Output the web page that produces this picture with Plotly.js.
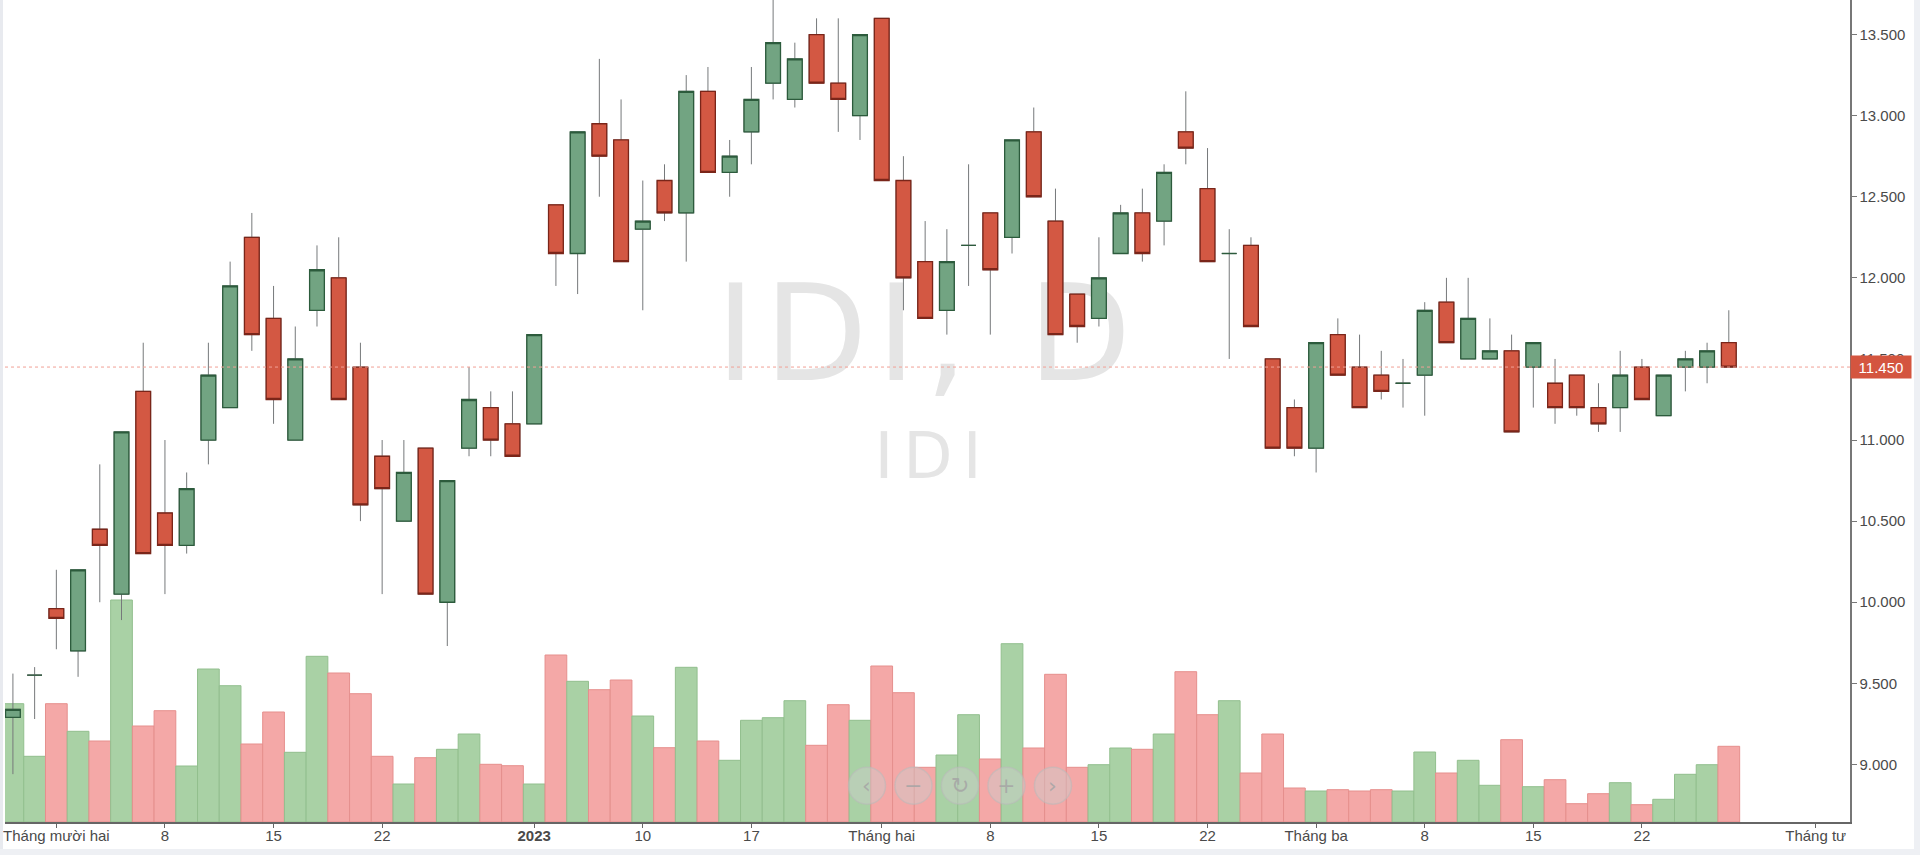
<!DOCTYPE html>
<html>
<head>
<meta charset="utf-8">
<script src="https://cdn.plot.ly/plotly-3.0.1.min.js"></script>
<style>
html,body{margin:0;padding:0;background:#fff;width:1920px;height:855px;overflow:hidden;}
#wm{position:absolute;left:0;top:0;z-index:0;}
#chart{position:absolute;left:0;top:0;width:1920px;height:855px;z-index:1;}
.edge{position:absolute;z-index:2;pointer-events:none;}
</style>
</head>
<body>
<svg id="wm" width="1920" height="855">
  <text id="wmBig" x="928" y="380" text-anchor="middle" font-family="DejaVu Sans" font-size="134" fill="#e5e5e5" letter-spacing="9"></text>
  <text id="wmSmall" x="933" y="478" text-anchor="middle" font-family="DejaVu Sans" font-size="64" fill="#e5e5e5" letter-spacing="10"></text>
</svg>
<div id="chart"></div>
<div class="edge" style="left:0;top:0;width:3px;height:855px;background:#e8eaef"></div>
<div class="edge" style="left:1914px;top:0;width:6px;height:855px;background:#eef0f4"></div>
<div class="edge" style="left:0;top:849px;width:1920px;height:6px;background:#eef0f4"></div>
<script>
// ---- data ----
const symbol = 'IDI';
const interval = 'D';

const dates = [
  '2022-11-29','2022-11-30',
  '2022-12-01','2022-12-02','2022-12-05','2022-12-06','2022-12-07','2022-12-08','2022-12-09',
  '2022-12-12','2022-12-13','2022-12-14','2022-12-15','2022-12-16','2022-12-19','2022-12-20',
  '2022-12-21','2022-12-22','2022-12-23','2022-12-26','2022-12-27','2022-12-28','2022-12-29','2022-12-30',
  '2023-01-03','2023-01-04','2023-01-05','2023-01-06','2023-01-09','2023-01-10','2023-01-11',
  '2023-01-12','2023-01-13','2023-01-16','2023-01-17','2023-01-18','2023-01-19','2023-01-27',
  '2023-01-30','2023-01-31',
  '2023-02-01','2023-02-02','2023-02-03','2023-02-06','2023-02-07','2023-02-08','2023-02-09',
  '2023-02-10','2023-02-13','2023-02-14','2023-02-15','2023-02-16','2023-02-17','2023-02-20',
  '2023-02-21','2023-02-22','2023-02-23','2023-02-24','2023-02-27','2023-02-28',
  '2023-03-01','2023-03-02','2023-03-03','2023-03-06','2023-03-07','2023-03-08','2023-03-09',
  '2023-03-10','2023-03-13','2023-03-14','2023-03-15','2023-03-16','2023-03-17','2023-03-20',
  '2023-03-21','2023-03-22','2023-03-23','2023-03-24','2023-03-27','2023-03-28'
];
const futureDates = ['2023-03-29','2023-03-30','2023-03-31','2023-04-03','2023-04-04','2023-04-05'];

const openPrice = [
  9290,9550,9960,9700,10450,10050,11300,10550,10350,11000,
  11200,12250,11750,11000,11800,12000,11450,10900,10500,10950,
  10000,10950,11200,11100,11100,12450,12150,12950,12850,12300,
  12600,12400,13150,12650,12900,13200,13100,13500,13200,13000,
  13600,12600,12100,11800,12200,12400,12250,12900,12350,11900,
  11750,12150,12400,12350,12900,12550,12150,12200,11500,11200,
  10950,11650,11450,11400,11350,11400,11850,11500,11500,11550,
  11450,11350,11400,11200,11200,11450,11150,11450,11450,11600
];
const highPrice = [
  9560,9600,10200,10200,10850,11050,11600,11000,10800,11600,
  12100,12400,11950,11700,12200,12250,11600,11000,11000,10950,
  10750,11450,11300,11300,11650,12450,12900,13350,13100,12600,
  12700,13250,13300,12850,13300,13800,13450,13600,13600,13500,
  13600,12750,12350,12300,12700,12400,12850,13050,12550,11900,
  12250,12450,12550,12700,13150,12800,12300,12250,11500,11250,
  11600,11750,11650,11550,11500,11850,12000,12000,11750,11650,
  11600,11500,11400,11350,11550,11500,11400,11550,11600,11800
];
const lowPrice = [
  8940,9280,9710,9540,10000,9890,10300,10050,10300,10850,
  11200,11550,11100,11000,11700,11250,10500,10050,10500,10050,
  9730,10900,10900,10900,11100,11950,11900,12500,12100,11800,
  12350,12100,12650,12500,12700,13100,13050,13200,12900,12850,
  12600,11800,11750,11650,11950,11650,12150,12500,11650,11600,
  11700,12150,12100,12200,12700,12100,11500,11700,10950,10900,
  10800,11400,11200,11250,11200,11150,11600,11500,11500,11050,
  11200,11100,11150,11050,11050,11250,11150,11300,11350,11450
];
const closePrice = [
  9340,9550,9900,10200,10350,11050,10300,10350,10700,11400,
  11950,11650,11250,11500,12050,11250,10600,10700,10800,10050,
  10750,11250,11000,10900,11650,12150,12900,12750,12100,12350,
  12400,13150,12650,12750,13100,13450,13350,13200,13100,13500,
  12600,12000,11750,12100,12200,12050,12850,12500,11650,11700,
  12000,12400,12150,12650,12800,12100,12150,11700,10950,10950,
  11600,11400,11200,11300,11350,11800,11600,11750,11550,11050,
  11600,11200,11200,11100,11400,11250,11400,11500,11550,11450
];
// volume, thousand shares
const volume = [
  1183,657,1183,907,810,2220,960,1113,560,1530,
  1363,780,1100,697,1657,1490,1283,657,380,643,
  727,880,577,563,380,1670,1407,1323,1420,1060,
  743,1547,810,617,1017,1043,1213,767,1173,1017,
  1560,1293,547,670,1073,630,1783,740,1477,547,
  573,740,727,880,1503,1073,1213,490,880,340,
  310,323,310,323,310,700,490,617,367,823,
  353,423,183,283,393,173,227,477,573,757
];

const tickDates = ['2022-12-01','2022-12-08','2022-12-15','2022-12-22','2023-01-03','2023-01-10','2023-01-17',
  '2023-02-01','2023-02-08','2023-02-15','2023-02-22','2023-03-01','2023-03-08','2023-03-15','2023-03-22','2023-04-03'];
const tickLabels = ['Tháng mười hai','8','15','22','<b>2023</b>','10','17',
  'Tháng hai','8','15','22','Tháng ba','8','15','22','Tháng tư'];
const priceTicks = [9000,9500,10000,10500,11000,11500,12000,12500,13000,13500];

// ---- styles ----
const UP_FILL = '#72a482', UP_LINE = '#2c5b3c';
const DN_FILL = '#d35843', DN_LINE = '#7a2519';
const WICK = '#76797b';
const VOL_UP = '#a9d1a5', VOL_UP_LINE = '#92bf8e';
const VOL_DN = '#f4a8a7', VOL_DN_LINE = '#e58f8d';

document.getElementById('wmBig').textContent = symbol + ', ' + interval;
document.getElementById('wmSmall').textContent = symbol;

const isUp = closePrice.map((c, i) => c >= openPrice[i]);
const bodyHigh = openPrice.map((o, i) => Math.max(o, closePrice[i]));
const bodyLow = openPrice.map((o, i) => Math.min(o, closePrice[i]));
const lastClose = closePrice[closePrice.length - 1];
const fmt = n => String(n).replace(/\B(?=(\d{3})+(?!\d))/g, '.');

const traces = [
  {
    type: 'bar', x: dates, y: volume, yaxis: 'y', xaxis: 'x',
    marker: {
      color: isUp.map(u => u ? VOL_UP : VOL_DN),
      line: {color: isUp.map(u => u ? VOL_UP_LINE : VOL_DN_LINE), width: 1}
    },
    hoverinfo: 'skip'
  },
  {
    type: 'scatter', mode: 'markers', x: futureDates, y: futureDates.map(() => null),
    yaxis: 'y2', xaxis: 'x', hoverinfo: 'skip'
  },
  {
    type: 'candlestick', x: dates, open: openPrice, high: highPrice, low: lowPrice, close: closePrice,
    yaxis: 'y2', xaxis: 'x',
    increasing: {line: {color: WICK, width: 1}, fillcolor: UP_FILL},
    decreasing: {line: {color: WICK, width: 1}, fillcolor: DN_FILL},
    whiskerwidth: 0, hoverinfo: 'skip'
  },
  {
    type: 'candlestick', x: dates, open: openPrice, high: bodyHigh, low: bodyLow, close: closePrice,
    yaxis: 'y2', xaxis: 'x',
    increasing: {line: {color: UP_LINE, width: 1.3}, fillcolor: UP_FILL},
    decreasing: {line: {color: DN_LINE, width: 1.3}, fillcolor: DN_FILL},
    whiskerwidth: 0, hoverinfo: 'skip'
  }
];

const navX = [0.4672, 0.4924, 0.5176, 0.5428, 0.5680];
const navIcons = ['‹', '−', '↻', '+', '›'];
const navY = 0.0442;

const shapes = [
  {type: 'line', xref: 'paper', x0: 0, x1: 1, yref: 'y2', y0: lastClose, y1: lastClose,
   line: {color: '#f1a196', width: 1, dash: 'dot'}, layer: 'above'}
];
navX.forEach(x => shapes.push({
  type: 'circle', xref: 'paper', yref: 'paper', xsizemode: 'pixel', ysizemode: 'pixel',
  xanchor: x, yanchor: navY, x0: -18.5, x1: 18.5, y0: -18.5, y1: 18.5,
  fillcolor: 'rgba(205,205,205,0.45)', line: {color: 'rgba(185,185,185,0.55)', width: 1.5}, layer: 'above'
}));

const annotations = [
  {xref: 'paper', x: 1, xanchor: 'left', yref: 'y2', y: lastClose, yanchor: 'middle',
   text: fmt(lastClose), showarrow: false, bgcolor: '#d4553f', width: 58, height: 20, borderpad: 1,
   font: {color: '#ffffff', size: 15, family: '"Liberation Sans", Arial, sans-serif'}}
];
navX.forEach((x, i) => annotations.push({
  xref: 'paper', yref: 'paper', x: x, y: navY, xanchor: 'center', yanchor: 'middle',
  text: navIcons[i], showarrow: false,
  font: {color: 'rgba(165,165,165,0.85)', size: 22, family: 'DejaVu Sans'}
}));

const layout = {
  width: 1920, height: 855,
  margin: {l: 5, r: 70, t: 0, b: 33, pad: 0},
  paper_bgcolor: 'rgba(0,0,0,0)', plot_bgcolor: 'rgba(0,0,0,0)',
  separators: ',.',
  showlegend: false, hovermode: false,
  boxmode: 'overlay', boxgap: 0.32, boxgroupgap: 0,
  bargap: 0,
  font: {family: '"Liberation Sans", Arial, sans-serif', size: 15, color: '#4a4a4a'},
  xaxis: {
    type: 'category', categoryorder: 'array', categoryarray: dates.concat(futureDates),
    range: [-0.364, 84.58], tickmode: 'array', tickvals: tickDates, ticktext: tickLabels,
    ticks: 'outside', ticklen: 4, tickcolor: '#666', tickangle: 0, ticklabelstandoff: -5,
    showline: true, linecolor: '#666', linewidth: 2,
    showgrid: false, zeroline: false, rangeslider: {visible: false},
    ticklabeloverflow: 'allow', fixedrange: true
  },
  yaxis: {range: [0, 8220], visible: false, showgrid: false, zeroline: false, fixedrange: true},
  yaxis2: {
    overlaying: 'y', side: 'right', anchor: 'x', range: [8645, 13713],
    tickmode: 'array', tickvals: priceTicks, tickformat: ',d',
    ticks: 'outside', ticklen: 5, tickcolor: '#777',
    showline: true, linecolor: '#777', linewidth: 1.5,
    showgrid: false, zeroline: false, fixedrange: true
  },
  shapes: shapes,
  annotations: annotations
};

Plotly.newPlot('chart', traces, layout, {displayModeBar: false, staticPlot: true});
</script>
</body>
</html>
